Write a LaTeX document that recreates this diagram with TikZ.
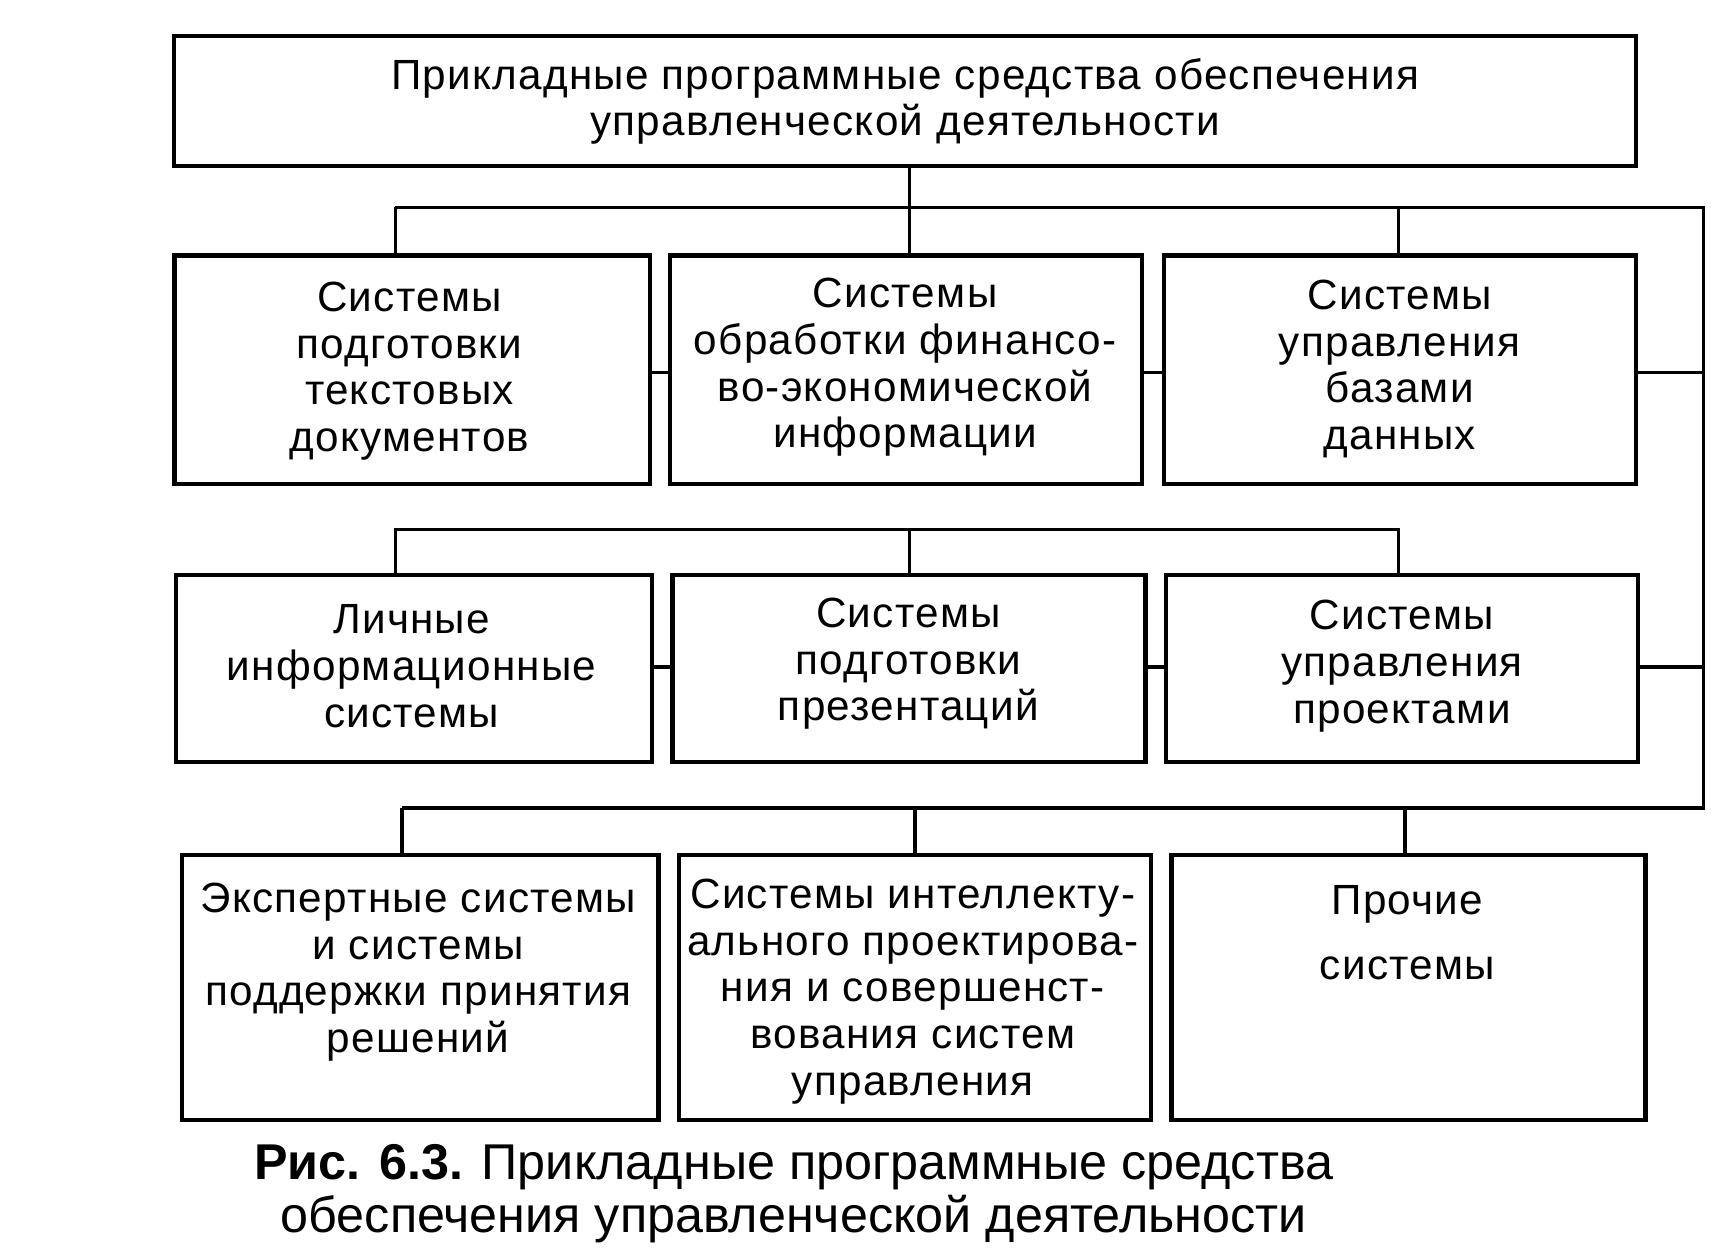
\documentclass[tikz,border=0pt]{standalone}
\usepackage{fontspec}
\setmainfont{Liberation Sans}[LetterSpace=3]
\newfontfamily\capfont{Liberation Sans}
\begin{document}
\begin{tikzpicture}[x=0.01cm,y=-0.01cm,
  box/.style={draw, line width=1.1pt, inner sep=0pt, rectangle},
  txt/.style={align=center, inner sep=0pt, font=\fontsize{11}{12.15}\selectfont},
  conn/.style={line width=0.9pt}]
\useasboundingbox (0,0) rectangle (1568,1150);
% boxes
\node[box, minimum width=13.38cm, minimum height=1.19cm] (top) at (829,92.5) {};
\node[box, minimum width=4.35cm, minimum height=2.09cm] (b1) at (377.5,338.5) {};
\node[box, minimum width=4.32cm, minimum height=2.09cm] (b2) at (830,338.5) {};
\node[box, minimum width=4.32cm, minimum height=2.09cm] (b3) at (1282,338.5) {};
\node[box, minimum width=4.36cm, minimum height=1.71cm] (b4) at (379,612.5) {};
\node[box, minimum width=4.33cm, minimum height=1.71cm] (b5) at (832.5,612.5) {};
\node[box, minimum width=4.32cm, minimum height=1.71cm] (b6) at (1284,612.5) {};
\node[box, minimum width=4.36cm, minimum height=2.43cm] (b7) at (385,904.5) {};
\node[box, minimum width=4.32cm, minimum height=2.43cm] (b8) at (838,904.5) {};
\node[box, minimum width=4.34cm, minimum height=2.43cm] (b9) at (1290,904.5) {};
% texts
\node[txt] (ttop) at (829,93) {Прикладные программные средства обеспечения\\управленческой деятельности};
\node[txt] (t1) at (375,340) {Системы\\подготовки\\текстовых\\документов};
\node[txt] (t2) at (829,336.5) {Системы\\обработки финансо-\\во-экономической\\информации};
\node[txt] (t3) at (1282,338) {Системы\\управления\\базами\\данных};
\node[txt] (t4) at (377,610) {Личные\\информационные\\системы};
\node[txt] (t5) at (832,608) {Системы\\подготовки\\презентаций};
\node[txt] (t6) at (1284,610) {Системы\\управления\\проектами};
\node[txt] (t7) at (383,890.5) {Экспертные системы\\и системы\\поддержки принятия\\решений};
\node[txt] (t8) at (836,908) {Системы интеллекту-\\ального проектирова-\\ния и совершенст-\\вования систем\\управления};
\node[txt] (t9) at (1289,854) {Прочие\\[0.17cm]системы};
\node[align=center, inner sep=0pt, font=\capfont\fontsize{13.1}{13.7}\selectfont] (cap) at (727,1093) {\textbf{Рис. 6.3.} Прикладные программные средства\\обеспечения управленческой деятельности};
% bus coordinates
\coordinate (bus1) at (833,190);
\coordinate (rt1) at (1560,190);
\coordinate (rt3) at (1560,740);
\coordinate (bus3l) at (368,740);
\coordinate (bus2l) at (362,485);
\coordinate (bus2r) at (1281,485);
% level 1
\draw[conn] (top.south -| bus1) -- (bus1);
\draw[conn] (362,190) -- (rt1) -- (rt3) -- (bus3l);
\draw[conn] (362,190) -- (b1.north -| 362,0);
\draw[conn] (833,190) -- (b2.north -| 833,0);
\draw[conn] (1281,190) -- (b3.north -| 1281,0);
\draw[conn] (b1.east |- 0,341) -- (b2.west |- 0,341);
\draw[conn] (b2.east |- 0,341) -- (b3.west |- 0,341);
\draw[conn] (b3.east |- 0,341) -- (rt1 |- 0,341);
% level 2
\draw[conn] (b4.north -| bus2l) -- (bus2l) -- (bus2r) -- (b6.north -| bus2r);
\draw[conn] (833,485) -- (b5.north -| 833,0);
\draw[conn] (b4.east |- 0,611) -- (b5.west |- 0,611);
\draw[conn] (b5.east |- 0,611) -- (b6.west |- 0,611);
\draw[conn] (b6.east |- 0,611) -- (rt1 |- 0,611);
% level 3
\draw[conn] (bus3l) -- (b7.north -| bus3l);
\draw[conn] (838,740) -- (b8.north -| 838,0);
\draw[conn] (1287,740) -- (b9.north -| 1287,0);
\end{tikzpicture}
\end{document}
